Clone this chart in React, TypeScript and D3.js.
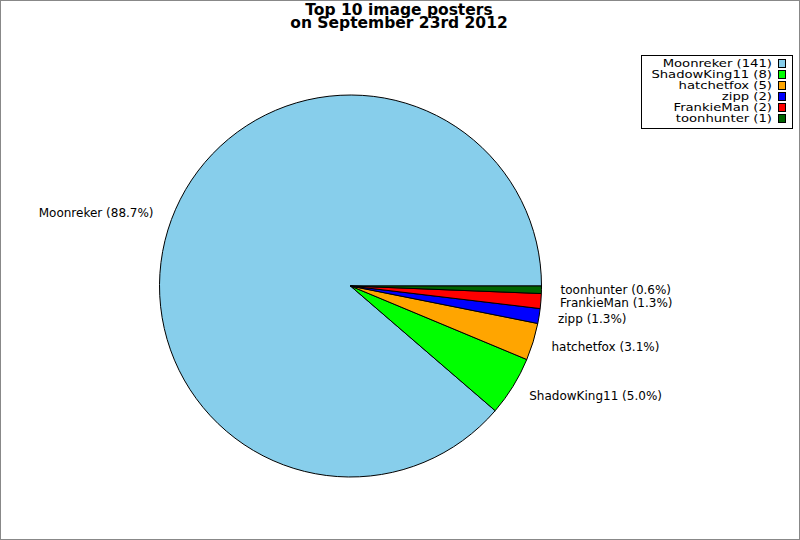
import { useEffect, useRef } from 'react';
import * as d3 from 'd3';

const posters = ['Moonreker', 'ShadowKing11', 'hatchetfox', 'zipp', 'FrankieMan', 'toonhunter'];
const counts = [141, 8, 5, 2, 2, 1];
const colors = ['#87ceeb', '#00ff00', '#ffa500', '#0000ff', '#ff0000', '#006400'];
const titleLines = ['Top 10 image posters', 'on September 23rd 2012'];

const W = 800;
const H = 540;

export default function App() {
  const svgRef = useRef<SVGSVGElement>(null);

  useEffect(() => {
    document.body.style.margin = '0';
    if (!svgRef.current) return;
    const svg = d3.select(svgRef.current);
    svg.selectAll('*').remove();

    const font = 'DejaVu Sans, sans-serif';
    const cx = 350.5;
    const cy = 286;
    const r = 191;

    svg.append('rect')
      .attr('width', W)
      .attr('height', H)
      .attr('fill', '#fff');

    svg.append('rect')
      .attr('x', 0.5)
      .attr('y', 0.5)
      .attr('width', W - 1)
      .attr('height', H - 1)
      .attr('fill', 'none')
      .attr('stroke', '#888');

    // title
    svg.selectAll('.title')
      .data(titleLines)
      .join('text')
      .attr('class', 'title')
      .attr('x', 399)
      .attr('y', (_, i) => 15 + i * 13.3)
      .attr('text-anchor', 'middle')
      .attr('font-family', font)
      .attr('font-weight', 'bold')
      .attr('font-size', '15.5px')
      .text(d => d);

    const total = d3.sum(counts);
    const data = posters.map((name, i) => ({ name, value: counts[i], color: colors[i] }));

    // start at 3 o'clock, go counterclockwise
    const pie = d3.pie<{ name: string; value: number; color: string }>()
      .value(d => d.value)
      .sort(null)
      .startAngle(Math.PI / 2)
      .endAngle(Math.PI / 2 - 2 * Math.PI);

    const arcs = pie(data);
    const arc = d3.arc<d3.PieArcDatum<{ name: string; value: number; color: string }>>()
      .innerRadius(0)
      .outerRadius(r);

    const g = svg.append('g').attr('transform', `translate(${cx},${cy})`);

    g.selectAll('.slice')
      .data(arcs)
      .join('path')
      .attr('class', 'slice')
      .attr('d', arc)
      .attr('fill', d => d.data.color)
      .attr('stroke', '#000')
      .attr('stroke-width', 1)
      .attr('stroke-linejoin', 'round');

    g.selectAll('.label')
      .data(arcs)
      .join('text')
      .attr('class', 'label')
      .each(function (d) {
        const a = (d.startAngle + d.endAngle) / 2;
        const x = Math.sin(a) * r * 1.1;
        const y = -Math.cos(a) * r * 1.1;
        d3.select(this)
          .attr('x', x)
          .attr('y', y + 4)
          .attr('text-anchor', x > 0 ? 'start' : 'end');
      })
      .attr('font-family', font)
      .attr('font-size', '12px')
      .attr('fill', '#000')
      .text(d => `${d.data.name} (${((d.data.value / total) * 100).toFixed(1)}%)`);

    // legend
    const legend = svg.append('g');
    legend.append('rect')
      .attr('x', 641.5)
      .attr('y', 55.5)
      .attr('width', 151)
      .attr('height', 73)
      .attr('fill', '#fff')
      .attr('stroke', '#000');

    const rows = legend.selectAll('.row')
      .data(data)
      .join('g')
      .attr('class', 'row')
      .attr('transform', (_, i) => `translate(0,${67 + i * 11})`);

    rows.append('text')
      .attr('transform', 'translate(772,0) scale(1.2,1)')
      .attr('text-anchor', 'end')
      .attr('font-family', font)
      .attr('font-size', '11px')
      .text(d => `${d.name} (${d.value})`);

    rows.append('rect')
      .attr('x', 778.5)
      .attr('y', -7.5)
      .attr('width', 7)
      .attr('height', 8)
      .attr('fill', d => d.color)
      .attr('stroke', '#000');
  }, []);

  return (
    <svg
      ref={svgRef}
      width={W}
      height={H}
      style={{ position: 'absolute', left: 0, top: 0, display: 'block' }}
    />
  );
}
